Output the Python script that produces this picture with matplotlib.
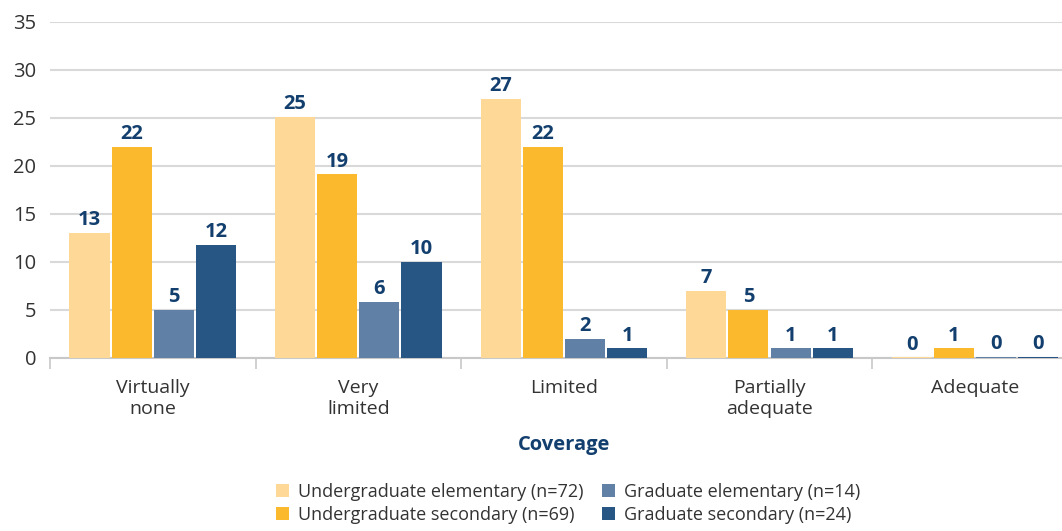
import matplotlib
matplotlib.use('Agg')
import matplotlib.pyplot as plt
import numpy as np

plt.rcParams['font.family'] = ['Open Sans', 'DejaVu Sans']

categories = ['Virtually\nnone', 'Very\nlimited', 'Limited', 'Partially\nadequate', 'Adequate']
series = ['Undergraduate elementary (n=72)', 'Undergraduate secondary (n=69)',
          'Graduate elementary (n=14)', 'Graduate secondary (n=24)']
ug_elem = [13.0, 25.1, 27.0, 7.0, 0.05]
ug_sec = [22.0, 19.1, 22.0, 5.0, 1.0]
gr_elem = [5.0, 5.85, 2.0, 1.0, 0.12]
gr_sec = [11.8, 10.0, 1.0, 1.0, 0.12]
colors = ['#fdd896', '#fbb92e', '#6080a6', '#285684']

label_col = '#123f6e'
text_col = '#333333'
grid_col = '#d9d9d9'

fig = plt.figure(figsize=(10.62, 5.31), dpi=100)
ax = fig.add_axes([0.047, 0.326, 0.968, 0.633])

x = np.arange(len(categories))
step = 0.205
width = 0.195
for i, (vals, name) in enumerate(zip([ug_elem, ug_sec, gr_elem, gr_sec], series)):
    bars = ax.bar(x + (i - 1.5) * step, vals, width, color=colors[i], label=name, zorder=3)
    ax.bar_label(bars, labels=[f'{round(v):d}' for v in vals], padding=2,
                 color=label_col, fontsize=14.5, fontweight='bold')

ax.set_ylim(0, 35)
ax.set_xlim(-0.5, len(categories) - 0.5)
ax.set_yticks(range(0, 36, 5))
ax.yaxis.grid(True, color=grid_col, linewidth=1.5, zorder=0)
ax.tick_params(axis='y', length=0, pad=10, labelsize=14.5, labelcolor=text_col)

ax.set_xticks(x)
ax.set_xticklabels(categories, fontsize=14, color=text_col, linespacing=1.25)
ax.set_xticks(np.arange(-0.5, len(categories)), minor=True)
ax.tick_params(axis='x', which='major', length=0, pad=15)
ax.tick_params(axis='x', which='minor', length=8, width=1.2, color='#c8c8c8')

for s in ['top', 'right', 'left']:
    ax.spines[s].set_visible(False)
ax.spines['bottom'].set_color('#c8c8c8')
ax.spines['bottom'].set_linewidth(1.5)

ax.set_xlabel('Coverage', fontsize=14.5, fontweight='bold', color=label_col, labelpad=12)

ax.legend(loc='center', bbox_to_anchor=(0.535, 0.052), bbox_transform=fig.transFigure,
          ncol=2, frameon=False, fontsize=13, labelcolor=text_col,
          handlelength=0.75, handleheight=0.75, handletextpad=0.5, columnspacing=1.0,
          labelspacing=0.3, borderaxespad=0)

fig.savefig('out.png', dpi=100)
